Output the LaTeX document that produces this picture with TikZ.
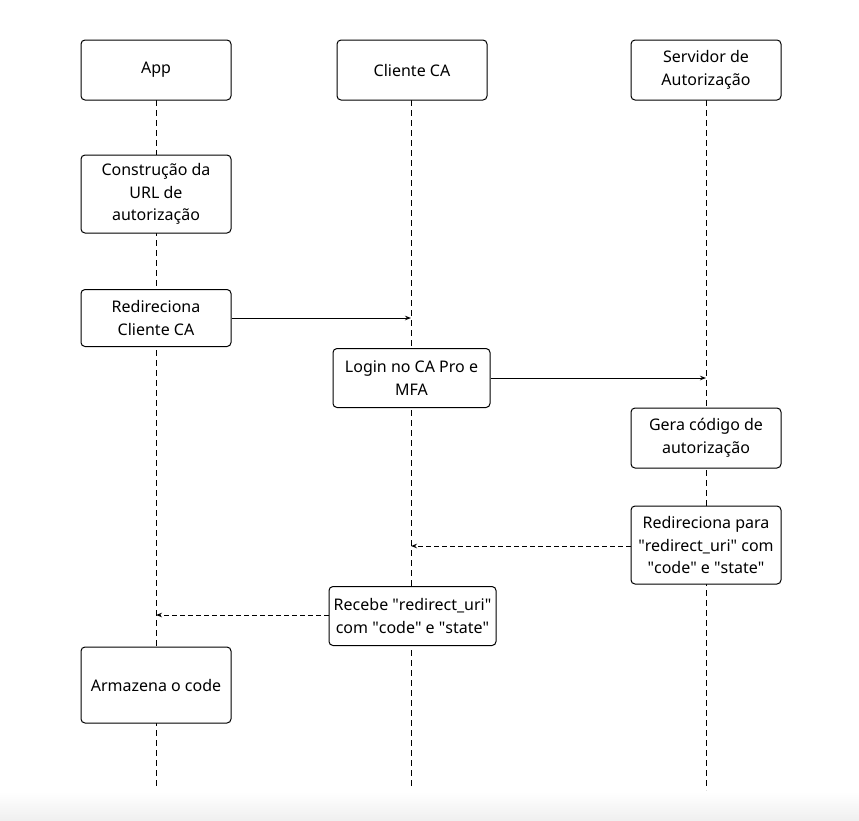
\documentclass[tikz,border=0pt]{standalone}
\usepackage{fontspec}
\setmainfont{Noto Sans}
\usetikzlibrary{arrows.meta}
\newcommand{\qq}{\textquotedbl}

\begin{document}
\begin{tikzpicture}[x=1pt,y=-1pt,
  box/.style={draw,rounded corners=4pt,fill=white,line width=1pt,
    minimum width=150pt,inner sep=0pt,align=center,
    font=\fontsize{16}{22.5}\selectfont},
  life/.style={line width=1pt,dash pattern=on 6pt off 4pt},
  msg/.style={line width=1pt,-{Stealth[length=6pt,width=4.5pt]}},
  back/.style={dash pattern=on 5pt off 3pt}]
  \useasboundingbox (0,0) rectangle (859,820);
  \shade[top color=white,bottom color=black!6] (0,792) rectangle (859,820);
  % lifelines
  \coordinate (Aend) at (156,787);
  \coordinate (Cend) at (411,787);
  \coordinate (Send) at (706,790);
  \draw[life] (156,100) -- (Aend);
  \draw[life] (411,100) -- (Cend);
  \draw[life] (706,100) -- (Send);
  % participants
  \node[box,minimum height=60pt] (A) at (156,70) {App};
  \node[box,minimum height=60pt] (C) at (412,70) {Cliente CA};
  \node[box,minimum height=60pt] (S) at (706,70) {Servidor de\\Autorização};
  % steps
  \node[box,minimum height=78pt] (1) at (156,194) {Construção da\\URL de\\autorização};
  \node[box,minimum height=57pt] (2) at (156,318) {Redireciona\\Cliente CA};
  \node[box,minimum height=59pt,minimum width=157pt] (3) at (411.5,378) {Login no CA Pro e\\MFA};
  \node[box,minimum height=60pt] (4) at (706,438) {Gera código de\\autorização};
  \node[box,minimum height=78pt] (5) at (706,545) {Redireciona para\\\qq redirect\_uri\qq{} com\\\qq code\qq{} e \qq state\qq};
  \node[box,minimum height=59pt,minimum width=167pt] (6) at (412.5,616) {Recebe \qq redirect\_uri\qq\\com \qq code\qq{} e \qq state\qq};
  \node[box,minimum height=76pt] (7) at (156,685) {Armazena o code};
  % messages
  \coordinate (C2) at (411,318);
  \coordinate (S3) at (706,378);
  \coordinate (C5) at (411,546);
  \coordinate (A6) at (156,615);
  \draw[msg] (2.east) -- (C2);
  \draw[msg] (3.east) -- (S3);
  \draw[msg,back] (5.west |- C5) -- (C5);
  \draw[msg,back] (6.west |- A6) -- (A6);
\end{tikzpicture}
\end{document}
